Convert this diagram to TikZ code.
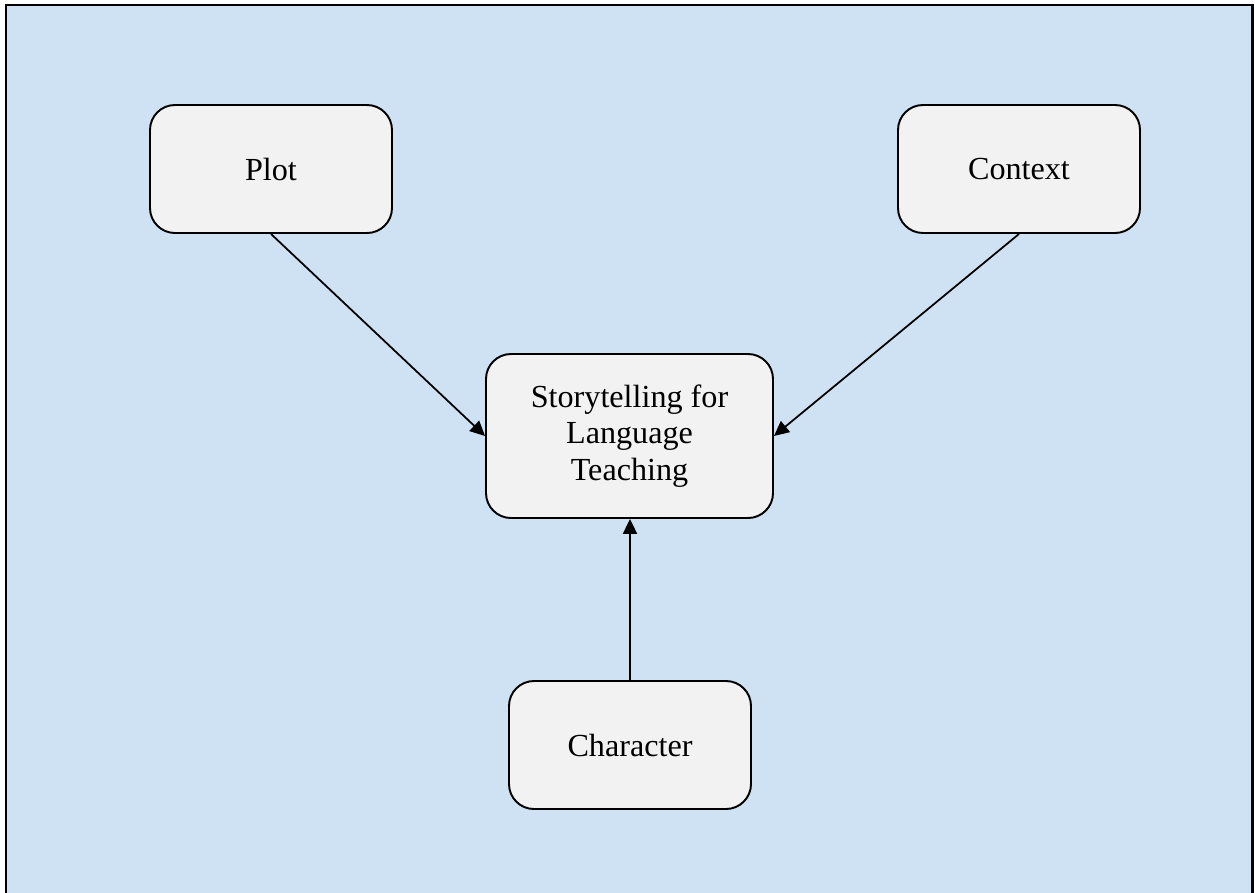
\documentclass[tikz,border=0pt]{standalone}
\usepackage{fontspec}
\setmainfont{Liberation Serif}
\usetikzlibrary{arrows.meta}
\definecolor{bgblue}{HTML}{CFE2F3}
\definecolor{boxfill}{HTML}{F2F2F2}
\begin{document}
\begin{tikzpicture}[x=0.02cm,y=-0.02cm,
  box/.style={draw=black, line width=1.1pt, fill=boxfill, rounded corners=0.5cm, font=\fontsize{18.3}{20.7}\selectfont, align=center, inner sep=0pt},
  conn/.style={line width=1pt, -{Triangle[length=8.5pt,width=8pt]}}]
\useasboundingbox (0,0) rectangle (1255,893);
\fill[bgblue] (6,5) rectangle (1252,893);
\draw[line width=1.7pt] (6,893) -- (6,5) -- (1252,5) -- (1252,893);
\node[box, minimum width=242*0.02cm, minimum height=128*0.02cm] (plot) at (271,169) {Plot};
\node[box, minimum width=242*0.02cm, minimum height=128*0.02cm] (context) at (1019,169) {Context};
\node[box, minimum width=287*0.02cm, minimum height=164*0.02cm] (story) at (629.5,436) {Storytelling for\\Language\\Teaching};
\node[box, minimum width=242*0.02cm, minimum height=128*0.02cm] (char) at (630,745) {Character};
\draw[conn] (plot.south) -- (story.west);
\draw[conn] (context.south) -- (story.east);
\draw[conn] (char.north) -- (char.north |- story.south);
\end{tikzpicture}
\end{document}
